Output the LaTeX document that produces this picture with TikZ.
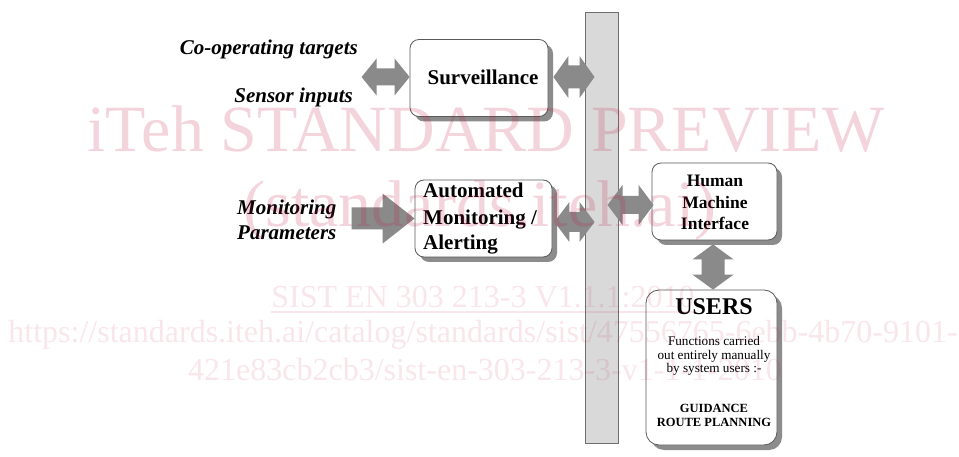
\documentclass[tikz,border=0pt]{standalone}
\usepackage{fontspec}
\setmainfont{Liberation Serif}
\usetikzlibrary{calc,shadows}
\definecolor{fatgray}{RGB}{138,138,138}
\definecolor{barfill}{RGB}{217,217,217}
\definecolor{barline}{RGB}{110,110,110}
\definecolor{boxline}{RGB}{90,90,90}
\definecolor{wm}{RGB}{200,30,70}
% horizontal double arrow: left tip, right tip, head half-width, shaft half-width
\newcommand{\hdbl}[4]{\fill[fatgray] (#1) -- ($(#1)+(15,-#3)$) -- ($(#1)+(15,-#4)$) -- ($(#2)+(-15,-#4)$) -- ($(#2)+(-15,-#3)$) -- (#2) -- ($(#2)+(-15,#3)$) -- ($(#2)+(-15,#4)$) -- ($(#1)+(15,#4)$) -- ($(#1)+(15,#3)$) -- cycle;}
% vertical double arrow: top tip, bottom tip, head half-width, shaft half-width
\newcommand{\vdbl}[4]{\fill[fatgray] (#1) -- ($(#1)+(#3,15)$) -- ($(#1)+(#4,15)$) -- ($(#2)+(#4,-15)$) -- ($(#2)+(#3,-15)$) -- (#2) -- ($(#2)+(-#3,-15)$) -- ($(#2)+(-#4,-15)$) -- ($(#1)+(-#4,15)$) -- ($(#1)+(-#3,15)$) -- cycle;}
\begin{document}
\begin{tikzpicture}[x=1pt,y=-1pt,
  box/.style={draw=boxline,line width=0.8pt,fill=white,rounded corners=9pt,
    drop shadow={shadow xshift=5pt,shadow yshift=-5pt,fill=black!45,opacity=1},
    inner sep=0pt},
  lbl/.style={font=\fontsize{21}{25}\selectfont\bfseries\itshape,inner sep=0pt},
  btxt/.style={font=\fontsize{21}{25}\selectfont\bfseries,inner sep=0pt},
  htxt/.style={font=\fontsize{17.5}{21}\selectfont\bfseries,inner sep=0pt},
  utxt/.style={font=\fontsize{13.2}{15}\selectfont,inner sep=0pt},
  gtxt/.style={font=\fontsize{12.5}{15}\selectfont\bfseries,inner sep=0pt},
  wmbig/.style={font=\fontsize{66}{70}\selectfont,text=wm,text opacity=0.19,inner sep=0pt,anchor=base},
  wmsmall/.style={font=\fontsize{32}{36}\selectfont,text=wm,text opacity=0.11,inner sep=0pt,anchor=base}]
\fill[white] (0,0) rectangle (959,457);
\useasboundingbox (0,0) rectangle (959,457);

% central bar
\node[draw=barline,fill=barfill,line width=1pt,minimum width=33pt,minimum height=430pt,inner sep=0pt] (bar) at (601.5,228) {};

% boxes
\node[box,minimum width=138pt,minimum height=77pt] (surv) at (479,78) {};
\node[box,minimum width=137pt,minimum height=77pt] (ab) at (483.5,218.5) {};
\node[box,minimum width=125pt,minimum height=77pt] (hmi) at (714.5,201.5) {};
\node[box,rounded corners=13pt,minimum width=131pt,minimum height=155pt] (users) at (711.5,367.5) {};

% box texts
\node[btxt,anchor=base] (survT) at (483,85) {Surveillance};
\node[btxt,anchor=base west] (ab1) at (423,198) {Automated};
\node[btxt,anchor=base west] (ab2) at (423,225) {Monitoring /};
\node[btxt,anchor=base west] (ab3) at (423,250) {Alerting};
\node[htxt,anchor=base] (h1) at (715,187) {Human};
\node[htxt,anchor=base] (h2) at (715,209) {Machine};
\node[htxt,anchor=base] (h3) at (715,230) {Interface};
\node[font=\fontsize{24}{28}\selectfont\bfseries,inner sep=0pt,anchor=base] (u0) at (714,315) {USERS};
\node[utxt,anchor=base] (u1) at (714,345) {Functions carried};
\node[utxt,anchor=base] (u2) at (714,359) {out entirely manually};
\node[utxt,anchor=base] (u3) at (714,372) {by system users :-};
\node[gtxt,anchor=base] (u4) at (714,412) {GUIDANCE};
\node[gtxt,anchor=base] (u5) at (714,426) {ROUTE PLANNING};

% outside labels
\node[lbl,anchor=base east] (co) at (358,55) {Co-operating targets};
\node[lbl,anchor=base east] (si) at (353,103) {Sensor inputs};
\node[lbl,anchor=base west] (mo) at (237,215) {Monitoring};
\node[lbl,anchor=base west] (pa) at (237,240) {Parameters};

% connector end points
\coordinate (inS) at ($(surv.west)+(-48,-1)$);
\coordinate (sW) at ($(surv.west)+(0,-1)$);
\coordinate (sE) at ($(surv.east)+(5,-1)$);
\coordinate (bS) at ($(bar.west|-surv.east)+(10,-1)$);
\coordinate (aE) at ($(ab.east)+(2,3.5)$);
\coordinate (bA) at ($(bar.west|-ab.east)+(10,3.5)$);
\coordinate (bH) at ($(bar.east|-hmi.west)+(-11,3.5)$);
\coordinate (hW) at ($(hmi.west)+(2,3.5)$);
\coordinate (hS) at ($(hmi.south)+(-1.5,4)$);
\coordinate (uN) at ($(hmi.south|-users.north)+(-1.5,0)$);
\coordinate (mp) at ($(ab.west)+(-63,0)$);

% arrows
\hdbl{inS}{sW}{18.5}{8.5}
\hdbl{sE}{bS}{21}{11.5}
\hdbl{aE}{bA}{20}{10}
\hdbl{bH}{hW}{20}{9}
\vdbl{hS}{uN}{20.5}{11.5}
\fill[fatgray] (mp) -- ($(mp)+(0,-11)$) -- ($(ab.west)+(-32,-11)$) -- ($(ab.west)+(-32,-25)$) -- (ab.west) -- ($(ab.west)+(-32,25)$) -- ($(ab.west)+(-32,11)$) -- ($(mp)+(0,11)$) -- cycle;

% watermark
\node[wmbig] (w1) at (486,152) {iTeh STANDARD PREVIEW};
\node[wmbig] (w2) at (480,227) {(standards.iteh.ai)};
\node[wmsmall] (w3) at (483,307) {SIST EN 303 213-3 V1.1.1:2010};
\draw[wm,opacity=0.11,line width=2pt] ($(w3.base west)+(0,5)$) -- ($(w3.base east)+(0,5)$);
\node[wmsmall] (w4) at (483,342) {https://standards.iteh.ai/catalog/standards/sist/47556765-6ebb-4b70-9101-};
\node[wmsmall] (w5) at (485,380) {421e83cb2cb3/sist-en-303-213-3-v1-1-1-2010};
\end{tikzpicture}
\end{document}
